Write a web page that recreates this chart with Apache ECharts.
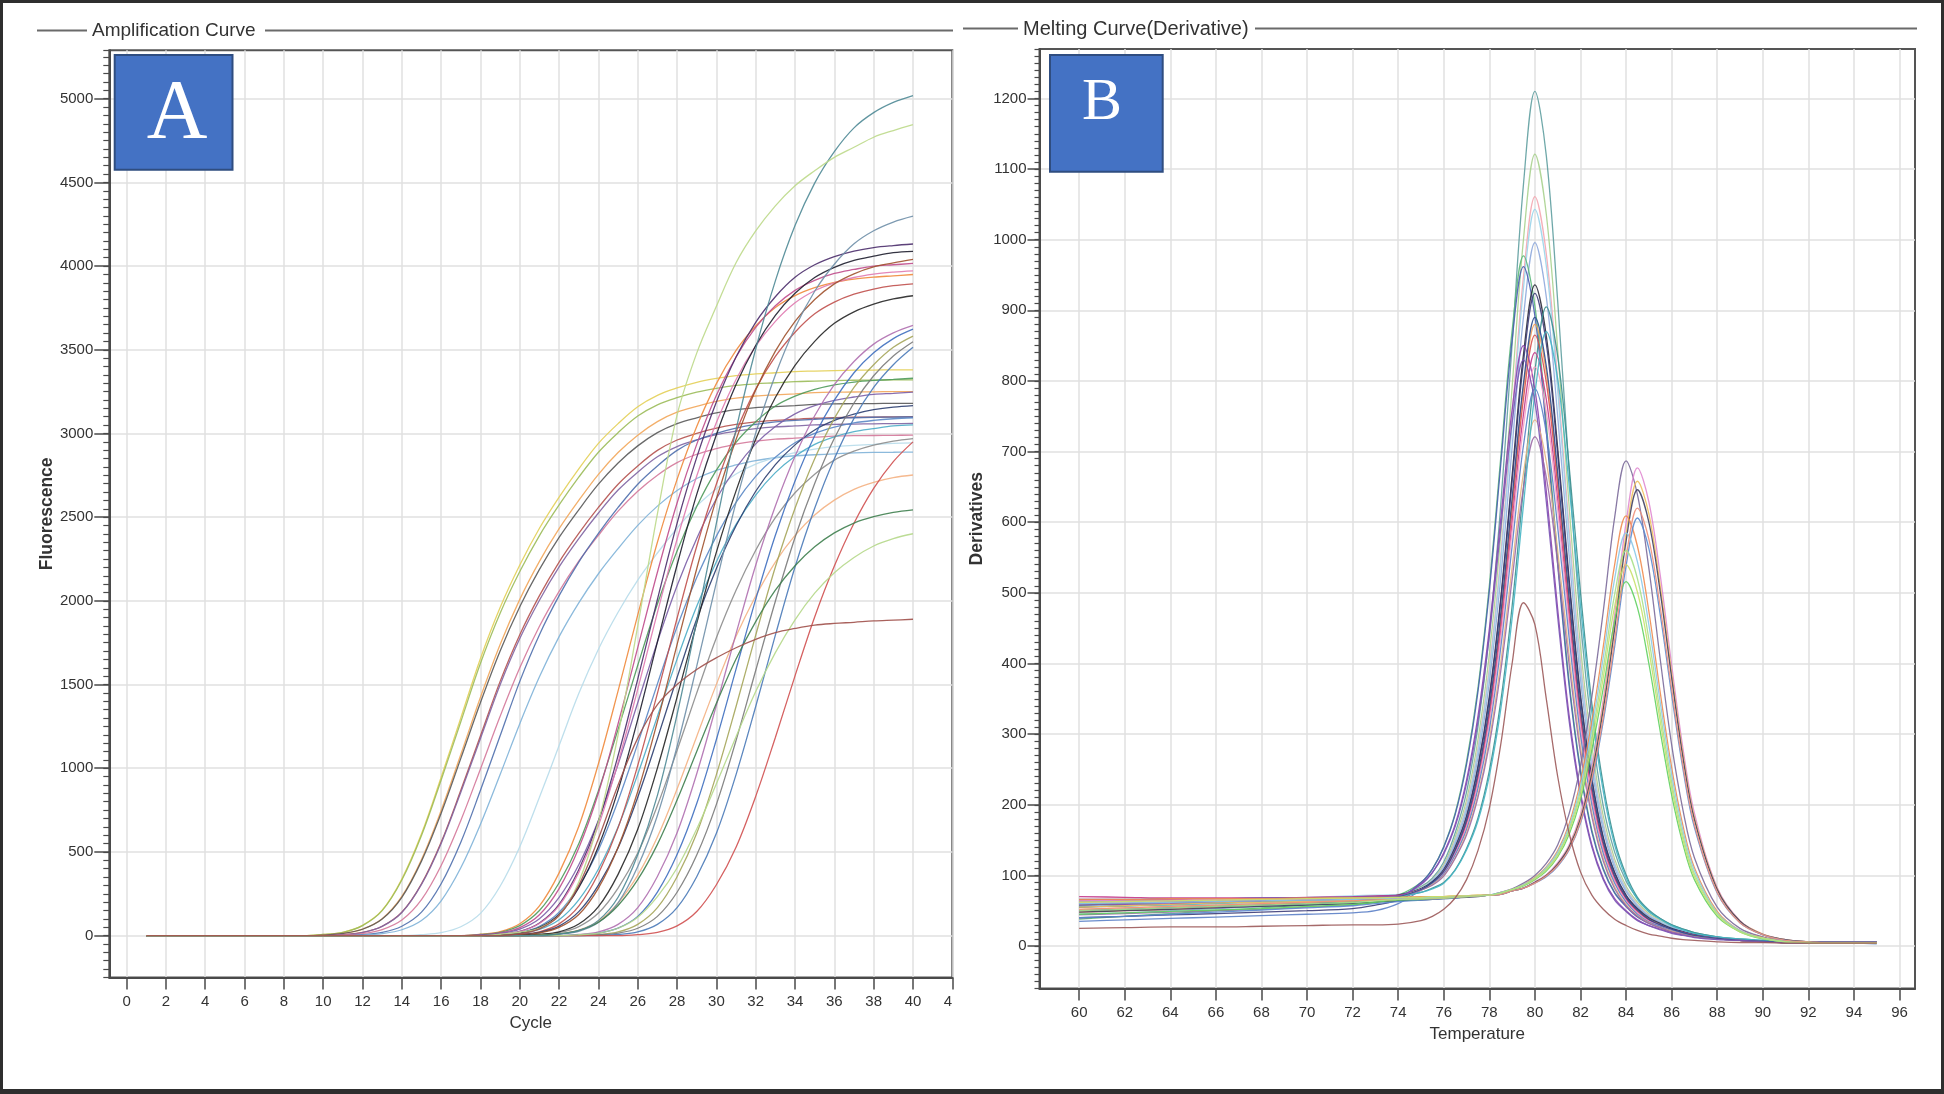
<!DOCTYPE html>
<html><head><meta charset="utf-8">
<script src="https://cdn.jsdelivr.net/npm/echarts@6/dist/echarts.min.js"></script>
<style>html,body{margin:0;padding:0;background:#fff}#c{width:1944px;height:1094px}</style>
</head><body><div id="c"></div>
<script>
// ---------- Panel A: amplification curves ----------
const cycles = [1,2,3,4,5,6,7,8,9,10,11,12,13,14,15,16,17,18,19,20,21,22,23,24,25,26,27,28,29,30,31,32,33,34,35,36,37,38,39,40];
const cycleTicks = [0,2,4,6,8,10,12,14,16,18,20,22,24,26,28,30,32,34,36,38,40,42];
const fluorTicks = [0,500,1000,1500,2000,2500,3000,3500,4000,4500,5000];

const ampE01 = [0,0,0,0,0, 0,0,0,0,7,20,61,152,338,608,946,1301,1656,1960,2214,2434,2620,2789,2941,3059,3160,3228,3272,3306,3329,3346,3356,3363,3370,3373,3376,3378,3379,3380,3380];
const ampE02 = [0,0,0,0,0, 0,0,0,0,7,20,60,149,332,598,930,1278,1627,1926,2175,2390,2573,2739,2888,3005,3104,3171,3214,3247,3270,3287,3297,3303,3310,3313,3316,3318,3319,3320,3320];
const ampE03 = [0,0,0,0,0, 0,0,0,0,3,13,39,101,234,455,748,1082,1424,1739,2009,2236,2431,2600,2756,2886,2990,3071,3127,3162,3192,3211,3224,3231,3237,3244,3247,3248,3249,3250,3250];
const ampE04 = [0,0,0,0,0, 0,0,0,0,3,13,38,99,229,445,731,1059,1393,1701,1965,2188,2379,2544,2697,2824,2926,3005,3059,3094,3123,3142,3155,3161,3167,3174,3177,3178,3179,3180,3180];
const ampE05 = [0,0,0,0,0, 0,0,0,0,0,6,19,56,140,310,558,868,1194,1519,1798,2031,2232,2403,2558,2697,2806,2899,2961,3001,3032,3054,3069,3078,3085,3091,3094,3097,3098,3099,3100];
const ampE06 = [0,0,0,0,0, 0,0,0,0,0,6,18,55,138,306,551,857,1178,1499,1775,2004,2203,2372,2525,2662,2769,2861,2922,2962,2993,3014,3029,3039,3045,3051,3054,3056,3058,3059,3060];
const ampE07 = [0,0,0,0,0, 0,0,0,0,0,3,12,36,93,215,419,688,996,1310,1600,1848,2057,2237,2392,2536,2655,2751,2826,2876,2909,2936,2954,2966,2972,2978,2984,2987,2988,2989,2990];
const ampE08 = [0,0,0,0,0, 0,0,0,0,0,0,6,19,56,140,310,558,868,1194,1519,1798,2031,2232,2403,2558,2697,2806,2899,2961,3001,3032,3054,3069,3078,3085,3091,3094,3097,3098,3099];
const ampE09 = [0,0,0,0,0, 0,0,0,0,0,0,3,12,35,90,208,405,665,962,1266,1546,1786,1988,2162,2312,2451,2566,2659,2731,2780,2812,2838,2855,2867,2873,2878,2884,2887,2888,2889];
const ampE10 = [0,0,0,0,0, 0,0,0,0,0,0,0,0,0,6,18,53,133,295,531,826,1136,1446,1711,1932,2124,2286,2434,2567,2670,2758,2817,2856,2885,2906,2921,2929,2935,2941,2944];
const ampM01 = [0,0,0,0,0, 0,0,0,0,0, 0,0,0,0,0, 0,0,8,24,71,178,375,652,1027,1462,1916,2350,2726,3042,3298,3496,3642,3753,3824,3871,3903,3922,3934,3942,3950];
const ampM02 = [0,0,0,0,0, 0,0,0,0,0, 0,0,0,0,0, 0,0,7,20,60,150,316,549,866,1232,1615,1981,2298,2564,2781,2947,3070,3164,3223,3263,3290,3307,3317,3323,3330];
const ampM03 = [0,0,0,0,0, 0,0,0,0,0, 0,0,0,0,0, 0,0,4,16,48,125,281,523,852,1266,1721,2171,2585,2935,3228,3457,3634,3763,3855,3915,3956,3980,4000,4008,4016];
const ampM04 = [0,0,0,0,0, 0,0,0,0,0, 0,0,0,0,0, 0,0,3,13,39,101,228,423,689,1024,1391,1755,2090,2373,2610,2795,2938,3042,3117,3166,3198,3218,3234,3240,3247];
const ampM05 = [0,0,0,0,0, 0,0,0,0,0, 0,0,0,0,0, 0,0,0,8,25,75,186,393,683,1076,1532,2008,2463,2857,3188,3457,3664,3817,3933,4008,4057,4090,4111,4123,4132];
const ampM06 = [0,0,0,0,0, 0,0,0,0,0, 0,0,0,0,0, 0,0,0,6,19,56,140,295,512,806,1147,1504,1845,2139,2387,2589,2744,2858,2945,3001,3038,3063,3078,3088,3094];
const ampM07 = [0,0,0,0,0, 0,0,0,0,0, 0,0,0,0,0, 0,0,0,8,24,72,179,378,657,1035,1473,1930,2368,2746,3065,3323,3522,3670,3781,3853,3900,3932,3952,3964,3972];
const ampM08 = [0,0,0,0,0, 0,0,0,0,0, 0,0,0,0,0, 0,0,0,3,12,37,95,214,398,649,964,1310,1652,1968,2234,2457,2632,2766,2864,2935,2980,3011,3029,3045,3051];
const ampM09 = [0,0,0,0,0, 0,0,0,0,0, 0,0,0,0,0, 0,0,0,4,16,49,127,287,533,869,1292,1755,2214,2636,2993,3292,3526,3706,3838,3932,3993,4034,4059,4080,4088];
const ampM10 = [0,0,0,0,0, 0,0,0,0,0, 0,0,0,0,0, 0,0,0,0,8,23,70,176,371,645,1017,1447,1896,2326,2698,3011,3265,3460,3605,3715,3785,3832,3863,3883,3894];
const ampM11 = [0,0,0,0,0, 0,0,0,0,0, 0,0,0,0,0, 0,0,0,0,6,19,57,143,302,525,827,1177,1542,1892,2194,2449,2655,2814,2932,3021,3078,3116,3142,3158,3167];
const ampM12 = [0,0,0,0,0, 0,0,0,0,0, 0,0,0,0,0, 0,0,0,0,4,16,49,126,284,528,861,1279,1738,2192,2611,2964,3260,3492,3670,3800,3894,3954,3995,4019,4040];
const ampM13 = [0,0,0,0,0, 0,0,0,0,0, 0,0,0,0,0, 0,0,0,0,0,6,18,54,135,284,493,777,1106,1450,1779,2063,2302,2497,2646,2757,2841,2894,2930,2954,2969];
const ampM14 = [0,0,0,0,0, 0,0,0,0,0, 0,0,0,0,0, 0,0,0,0,0,8,23,69,173,366,635,1001,1425,1867,2291,2657,2965,3215,3407,3550,3658,3727,3773,3804,3823];
const ampM15 = [0,0,0,0,0, 0,0,0,0,0, 0,0,0,0,0, 0,0,0,0,0,3,11,33,86,195,361,589,876,1190,1501,1788,2029,2232,2391,2513,2602,2666,2708,2736,2752];
const ampM16 = [0,0,0,0,0, 0,0,0,0,0, 0,0,0,0,0, 0,0,0,0,0,0,9,26,78,196,413,718,1131,1610,2110,2588,3002,3350,3632,3850,4011,4133,4211,4263,4298];
const ampL01 = [0,0,0,0,0, 0,0,0,0,0, 0,0,0,0,0, 0,0,0,0,0,0,0,7,22,67,167,353,614,967,1376,1804,2213,2567,2864,3106,3292,3430,3534,3601,3646];
const ampL02 = [0,0,0,0,0, 0,0,0,0,0, 0,0,0,0,0, 0,0,0,0,0,0,0,4,15,45,115,260,484,789,1172,1592,2009,2392,2716,2987,3199,3363,3482,3567,3623];
const ampL03 = [0,0,0,0,0, 0,0,0,0,0, 0,0,0,0,0, 0,0,0,0,0,0,0,0,7,22,67,167,352,611,962,1369,1795,2202,2553,2849,3090,3275,3411,3515,3582];
const ampL04 = [0,0,0,0,0, 0,0,0,0,0, 0,0,0,0,0, 0,0,0,0,0,0,0,0,4,15,44,115,259,481,784,1166,1584,1998,2379,2701,2971,3182,3345,3463,3548];
const ampL05 = [0,0,0,0,0, 0,0,0,0,0, 0,0,0,0,0, 0,0,0,0,0,0,0,0,0,7,22,67,167,352,611,962,1369,1795,2202,2553,2849,3090,3275,3411,3515];
const ampL06 = [0,0,0,0,0, 0,0,0,0,0, 0,0,0,0,0, 0,0,0,0,0,0,0,0,0,0,6,19,58,144,304,528,832,1184,1552,1904,2208,2464,2672,2832,2950];
const ampL07 = [0,0,0,0,0, 0,0,0,0,0, 0,0,0,0,0, 0,0,0,0,0,3,10,31,80,180,334,545,810,1100,1388,1653,1876,2064,2210,2323,2406,2465,2503,2529,2544];
const ampL08 = [0,0,0,0,0, 0,0,0,0,0, 0,0,0,0,0, 0,0,0,0,0,0,0,5,15,44,110,233,404,637,907,1188,1458,1691,1887,2046,2168,2259,2328,2372,2401];
const ampT01 = [0,0,0,0,0, 0,0,0,0,0, 0,0,0,0,0, 0,0,0,0,0,0,10,30,91,229,483,838,1321,1880,2464,3023,3505,3912,4242,4496,4684,4826,4917,4978,5019];
const ampG01 = [0,0,0,0,0, 0,0,0,0,0, 0,0,0,0,0, 0,0,0,8,20,45,120,320,680,1200,1850,2520,3110,3480,3760,4020,4210,4360,4480,4570,4650,4710,4770,4810,4845];
const ampB01 = [0,0,0,0,0, 0,0,0,0,0, 0,0,0,0,0, 0,0,0,0,10,40,120,300,580,900,1180,1380,1500,1590,1660,1720,1770,1810,1835,1855,1865,1872,1880,1885,1890];

const ampCurves = [ampE01,ampE02,ampE03,ampE04,ampE05,ampE06,ampE07,ampE08,ampE09,ampE10,
  ampM01,ampM02,ampM03,ampM04,ampM05,ampM06,ampM07,ampM08,ampM09,ampM10,ampM11,ampM12,ampM13,ampM14,ampM15,ampM16,
  ampL01,ampL02,ampL03,ampL04,ampL05,ampL06,ampL07,ampL08,ampT01,ampG01,ampB01];
const ampColors = ['#e3cf57','#9bbb59','#f2a65a','#595959','#b5524f','#8064a2','#d4789a','#4f6fad','#7fb2d8','#b7dbea',
  '#f08a3c','#4e9a5a','#c04c8c','#7b5ea7','#4b2e6b','#5a87c5','#e07ab0','#4bacc6','#1e1e2e','#c0504d','#2c3e70','#a0522d','#8c8c8c','#262626','#f4b183','#6f8fa8',
  '#b070b0','#3f6fbf','#a5a55a','#7a7a7a','#4a7ab8','#d05050','#3f7f4f','#b5d88a','#4f8a96','#bcd98a','#a0504a'];

// ---------- Panel B: melting curves (derivative) ----------
const temps = [60,62,64,66,68,70,72,73,74,75,75.5,76,76.5,77,77.5,78,78.5,79,79.5,80,80.5,81,81.5,82,82.5,83,83.5,84,84.5,85,85.5,86,86.5,87,88,89,90,91,92,93,94,95];
const tempTicks = [60,62,64,66,68,70,72,74,76,78,80,82,84,86,88,90,92,94,96];
const derivTicks = [0,100,200,300,400,500,600,700,800,900,1000,1100,1200];

const melt101 = [58,60,62,64,66,68,70,71,72, 84,96,119,160,218,310,441,624,852,1079,1210,1119,913,673,459,306,198,133,92,67,49,39,30,24,19, 13,9,7,5,5,5,5,5];
const melt102 = [62,63,64,65,66,67,68,69,70, 83,94,115,154,207,292,413,581,791,1001,1121,1036,845,623,425,283,184,123,85,62,46,37,28,23,18, 12,9,7,5,5,5,5,5];
const melt103 = [50,52,54,56,58,61,64,66,68, 82,93,113,149,199,279,393,552,751,948,1061,980,800,590,402,268,174,117,81,59,44,35,27,22,17, 12,9,7,5,5,5,5,5];
const melt104 = [66,66,67,67,68,69,71,72,73, 82,93,112,148,197,276,388,544,738,932,1043,963,786,579,396,264,171,115,80,58,43,35,27,22,17, 12,9,7,5,5,5,5,5];
const melt105 = [45,47,50,53,56,60,64,67,70, 81,92,110,144,191,266,373,521,706,891,996,919,750,553,378,252,164,110,77,56,42,33,26,21,16, 12,9,7,5,5,5,5,5];
const melt106 = [38,42,46,50,54,58,62,66,72, 90,109,141,188,261,365,510,691,871,977,906,741,549,375,250,164,110,76,57,42,33,26,21,17,14, 10,8,6,5,5,5,5,5];
const melt107 = [60,61,62,63,64,65,66,67,69, 90,109,140,186,257,360,503,681,858,962,892,729,540,369,246,161,108,75,56,41,32,26,20,17,14, 10,8,6,5,5,5,5,5];
const melt108 = [55,57,59,61,63,65,68,70,72, 81,91,108,140,184,254,353,492,666,838,936,864,705,520,355,237,154,104,72,53,40,32,25,20,16, 11,9,7,5,5,5,5,5];
const melt109 = [40,42,44,46,48,50,53,58,65, 81,90,108,139,182,251,349,487,658,827,924,853,696,513,350,234,152,103,71,52,39,31,24,20,16, 11,9,7,5,5,5,5,5];
const melt110 = [63,64,65,66,67,68,69,70,71, 76,82,90,108,138,181,248,346,481,649,813,905,835,680,501,343,228,149,101,69,51,39,30,24,19, 13,10,8,5,5,5,5,5];
const melt111 = [48,50,52,55,58,61,64,66,69, 80,89,106,136,177,242,335,466,628,789,880,812,662,488,334,223,145,98,68,50,38,30,23,19,15, 11,8,7,5,5,5,5,5];
const melt112 = [65,65,66,66,67,68,69,70,71, 80,89,105,134,175,239,331,458,617,775,865,798,651,480,328,219,143,97,67,49,37,30,23,19,15, 11,8,7,5,5,5,5,5];
const melt113 = [58,59,60,62,64,66,68,69,70, 88,104,132,172,235,325,449,604,759,850,788,644,477,327,218,143,96,67,50,37,29,24,19,16,13, 10,8,6,5,5,5,5,5];
const melt114 = [70,69,68,68,68,69,70,71,72, 80,89,104,133,172,234,323,446,600,753,840,774,632,466,318,213,139,94,66,48,36,29,23,19,15, 11,8,7,5,5,5,5,5];
const melt115 = [62,62,63,64,65,66,67,68,70, 80,88,103,131,169,230,316,437,587,736,820,756,617,455,311,208,136,92,64,47,35,29,22,18,14, 11,8,7,5,5,5,5,5];
const melt116 = [35,37,39,41,43,45,47,50,60, 79,88,102,129,165,223,306,422,566,709,789,727,593,437,299,200,131,89,62,45,34,28,22,18,14, 10,8,7,5,5,5,5,5];
const melt117 = [52,54,56,58,60,62,65,67,70, 79,87,100,125,160,214,292,401,536,670,745,686,560,413,282,189,124,84,59,43,33,26,21,17,14, 10,8,7,5,5,5,5,5];
const melt118 = [44,46,48,50,52,55,58,62,67, 79,86,99,124,157,210,285,389,519,649,721,664,541,399,273,183,120,81,57,42,32,26,20,17,13, 10,8,7,5,5,5,5,5];
const melt119 = [56,57,58,60,62,64,66,68,70, 76,81,89,107,136,177,241,335,464,625,782,870,803,653,482,330,219,143,97,66,49,38,29,23,18, 13,10,8,5,5,5,5,5];
const melt120 = [50,52,54,56,58,60,63,66,70, 80,90,106,136,178,244,339,470,634,797,890,821,670,494,337,226,147,99,69,51,38,30,24,19,15, 11,8,7,5,5,5,5,5];
const melt121 = [66,66,67,67,68,68,69,70,71, 87,104,130,169,230,318,439,591,741,830,770,629,466,319,213,140,94,65,49,36,29,23,18,15,12, 9,8,6,5,5,5,5,5];
const melt201 = [58,60,62,63,64,65,66,66,67, 67,68,68,69,70,71, 72,76,81,89,100,117,143,187,255,353,474,607,687,639,535,406,285,192,125, 55,25,13,7,5,4,4,4];
const melt202 = [64,65,65,66,66,67,67,68,68, 69,69,70,70,71,71, 72,73,78,82,91,101,118,143,186,253,349,469,599,677,629,525,398,279,188, 83,36,17,9,6,4,4,4];
const melt203 = [55,57,59,61,62,63,64,65,66, 67,67,68,69,70,71, 72,73,78,82,90,100,116,141,182,247,341,457,583,658,612,510,387,271,182, 81,35,17,9,6,4,4,4];
const melt204 = [48,50,52,54,56,58,60,62,64, 65,66,67,68,69,70, 72,73,78,82,90,100,116,140,180,244,335,449,573,646,600,501,380,266,179, 80,35,16,9,6,4,4,4];
const melt205 = [66,66,67,67,67,68,68,69,69, 70,70,70,71,71,72, 72,76,80,87,97,112,135,173,233,319,424,540,609,566,474,359,253,170,111, 49,22,12,7,5,4,4,4];
const melt206 = [40,42,45,48,51,54,57,60,63, 65,66,67,68,70,71, 72,73,78,82,89,98,113,136,174,233,318,424,538,606,563,469,356,250,168, 75,33,16,8,6,4,4,3];
const melt207 = [60,61,62,63,64,65,66,67,68, 68,69,69,70,71,71, 72,76,80,87,96,111,133,169,226,308,409,520,585,544,455,345,243,163,107, 47,22,11,7,5,4,4,4];
const melt208 = [45,47,49,51,53,56,59,62,65, 66,67,68,69,70,71, 72,75,80,85,94,106,126,158,207,278,365,460,516,479,400,304,214,144,94, 42,20,10,6,5,4,4,4];
const melt209 = [62,63,64,65,66,67,68,68,69, 69,70,70,71,71,72, 72,75,80,86,95,108,128,162,213,288,380,481,540,501,419,318,224,150,98, 44,20,11,6,5,4,4,4];
const melt210 = [52,54,56,58,60,62,64,65,66, 67,67,68,69,70,71, 72,73,78,82,89,99,114,137,176,237,324,433,550,620,576,480,364,255,172, 76,33,16,8,6,4,4,4];
const melt211 = [50,52,54,56,58,60,62,64,66, 67,68,68,69,70,71, 72,75,80,86,96,109,130,165,219,297,393,498,560,520,435,330,232,156,102, 46,21,11,6,5,4,4,4];
const melt301 = [25,26,27,27,28,29,30,30,31, 36,42,52,68,94,135,195,285,400,486,455,350,240,160,105,72,52,38,29,22,17,14,11,9,8, 6,5,5,4,4,4,4,4];

const meltCurves = [melt101,melt102,melt103,melt104,melt105,melt106,melt107,melt108,melt109,melt110,melt111,melt112,melt113,melt114,melt115,melt116,melt117,melt118,melt119,melt120,melt121,
  melt201,melt202,melt203,melt204,melt205,melt206,melt207,melt208,melt209,melt210,melt211,melt301];
const meltColors = ['#5f9ea0','#a9d18e','#f4a6b0','#9ad4ea','#8ea9db','#5cb87a','#4a5fb0','#2b2b3b','#3c3c78','#3a8f8f','#f2a05a','#d9534f','#8e44ad','#c2378a','#f7a1c4','#5b7fc7','#e4b483','#9b6aa6','#45b5c4','#2a4d8f','#7a55b5',
  '#7b6a9a','#e08ad0','#f0c060','#404060','#f08c50','#5a8ad0','#8cc8e8','#5fd05f','#c8e06a','#f0907a','#a8e08a','#9c5a5a'];

// ---------- chart ----------
const FONT = '"Liberation Sans", Arial, Helvetica, sans-serif';
const SERIF = '"Liberation Serif", "Times New Roman", serif';
const AX = '#4a4a4a';
const GRIDC = '#e0e0e0';

function lineSeries(xs, ys, color, xi, yi) {
  return {
    type: 'line', xAxisIndex: xi, yAxisIndex: yi,
    data: xs.map((x, i) => [x, ys[i]]),
    showSymbol: false, symbol: 'none', smooth: 0.35,
    lineStyle: { width: 1.3, color: color, opacity: 0.9 },
    emphasis: { disabled: true }, silent: true, z: 3
  };
}

const series = [];
ampCurves.forEach((c, i) => series.push(lineSeries(cycles, c, ampColors[i], 0, 0)));
meltCurves.forEach((c, i) => series.push(lineSeries(temps, c, meltColors[i], 1, 2)));

function majorX(ticks, min, max, name, gap, gi, fmt) {
  return {
    type: 'value', gridIndex: gi, min: min, max: max,
    name: name, nameLocation: 'middle', nameGap: gap,
    nameTextStyle: { fontFamily: FONT, fontSize: 17, color: '#333' },
    axisLine: { show: true, onZero: false, lineStyle: { color: AX, width: 2 } },
    axisTick: { show: true, customValues: ticks, length: 12, lineStyle: { color: AX, width: 1.5 } },
    axisLabel: { customValues: ticks, margin: 17, fontFamily: FONT, fontSize: 15, color: '#333', formatter: fmt,
      rich: { c: { fontFamily: FONT, fontSize: 15, color: '#333', padding: [0, 9, 0, 0] } } },
    splitLine: { show: true, lineStyle: { color: GRIDC, width: 1.5 } }
  };
}
function majorY(ticks, min, max, name, gap, gi, margin, tlen) {
  return {
    type: 'value', gridIndex: gi, min: min, max: max, position: 'left',
    name: name, nameLocation: 'middle', nameGap: gap,
    nameTextStyle: { fontFamily: FONT, fontSize: 17.5, fontWeight: 'bold', color: '#333' },
    axisLine: { show: true, onZero: false, lineStyle: { color: AX, width: 2 } },
    axisTick: { show: true, customValues: ticks, length: tlen, lineStyle: { color: AX, width: 1.5 } },
    axisLabel: { customValues: ticks, margin: margin, fontFamily: FONT, fontSize: 15, color: '#333', formatter: v => String(v) },
    splitLine: { show: true, lineStyle: { color: GRIDC, width: 1.5 } }
  };
}
function minorY(min, max, step, gi, tlen) {
  return {
    type: 'value', gridIndex: gi, min: min, max: max, interval: step, position: 'left',
    axisLine: { show: false, onZero: false },
    axisTick: { show: true, length: tlen, lineStyle: { color: AX, width: 1.2 } },
    axisLabel: { show: false }, splitLine: { show: false }
  };
}

const option = {
  backgroundColor: '#ffffff',
  animation: false,
  grid: [
    { left: 109.3, right: 1944 - 952.3, top: 50.2, bottom: 1094 - 977.45, show: true, borderColor: '#555', borderWidth: 2, backgroundColor: 'transparent', outerBoundsMode: 'none' },
    { left: 1039.5, right: 29, top: 49, bottom: 1094 - 988.4, show: true, borderColor: '#555', borderWidth: 2, backgroundColor: 'transparent', outerBoundsMode: 'none' }
  ],
  xAxis: [
    majorX(cycleTicks, -0.88, 42, 'Cycle', 36, 0, v => (v === 42 ? '{c|4}' : String(v))),
    majorX(tempTicks, 58.26, 96.68, 'Temperature', 37, 1, v => String(v))
  ],
  yAxis: [
    majorY(fluorTicks, -250, 5290, 'Fluorescence', 48, 0, 16, 15),
    minorY(-250, 5290, 50, 0, 6),
    majorY(derivTicks, -60, 1270, 'Derivatives', 53, 1, 13, 12),
    minorY(-60, 1270, 10, 1, 5)
  ],
  series: series,
  graphic: [
    { type: 'rect', z: 100, silent: true, shape: { x: 1.5, y: 1.5, width: 1941, height: 1090 }, style: { fill: 'none', stroke: '#2e2e2e', lineWidth: 3 } },
    { type: 'rect', z: 100, silent: true, shape: { x: 0, y: 1089, width: 1944, height: 5 }, style: { fill: '#2e2e2e' } },
    { type: 'line', z: 100, silent: true, shape: { x1: 37, y1: 30.5, x2: 87, y2: 30.5 }, style: { stroke: '#6a6a6a', lineWidth: 2 } },
    { type: 'line', z: 100, silent: true, shape: { x1: 265, y1: 30.5, x2: 953, y2: 30.5 }, style: { stroke: '#6a6a6a', lineWidth: 2 } },
    { type: 'line', z: 100, silent: true, shape: { x1: 963, y1: 28.5, x2: 1018, y2: 28.5 }, style: { stroke: '#6a6a6a', lineWidth: 2 } },
    { type: 'line', z: 100, silent: true, shape: { x1: 1255, y1: 28.5, x2: 1917, y2: 28.5 }, style: { stroke: '#6a6a6a', lineWidth: 2 } },
    { type: 'text', z: 100, silent: true, style: { text: 'Amplification Curve', x: 92, y: 30.5, font: '19px ' + FONT, fill: '#333', textAlign: 'left', textVerticalAlign: 'middle', align: 'left', verticalAlign: 'middle' } },
    { type: 'text', z: 100, silent: true, style: { text: 'Melting Curve(Derivative)', x: 1023, y: 29, font: '20px ' + FONT, fill: '#333', textAlign: 'left', textVerticalAlign: 'middle', align: 'left', verticalAlign: 'middle' } },
    { type: 'rect', z: 100, silent: true, shape: { x: 114.7, y: 55, width: 117.8, height: 114.7 }, style: { fill: '#4472c4', stroke: '#2f4d80', lineWidth: 2 } },
    { type: 'text', z: 101, silent: true, style: { text: 'A', x: 177, y: 116, font: '84px ' + SERIF, fill: '#ffffff', textAlign: 'center', textVerticalAlign: 'middle', align: 'center', verticalAlign: 'middle' } },
    { type: 'rect', z: 100, silent: true, shape: { x: 1050, y: 55, width: 112.7, height: 116.7 }, style: { fill: '#4472c4', stroke: '#2f4d80', lineWidth: 2 } },
    { type: 'text', z: 101, silent: true, style: { text: 'B', x: 1102, y: 103, font: '60px ' + SERIF, fill: '#ffffff', textAlign: 'center', textVerticalAlign: 'middle', align: 'center', verticalAlign: 'middle' } }
  ]
};

const chart = echarts.init(document.getElementById('c'), null, { renderer: 'canvas', width: 1944, height: 1094 });
chart.setOption(option);
</script>
</body></html>
